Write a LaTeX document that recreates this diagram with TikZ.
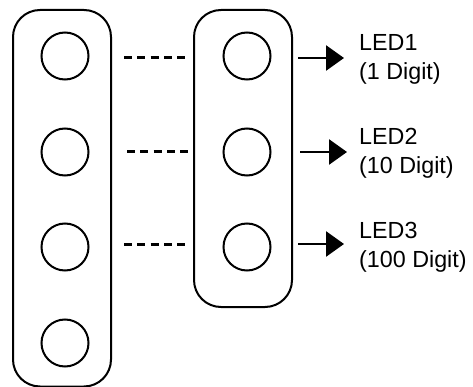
\documentclass[tikz,border=0pt]{standalone}
\usepackage{fontspec}
\setmainfont{Liberation Sans}
\usetikzlibrary{arrows.meta}
\begin{document}
\begin{tikzpicture}[x=1pt,y=-1pt,
  boxline/.style={line width=2pt},
  ledc/.style={circle,draw,line width=2pt,minimum size=47pt,inner sep=0pt},
  dashconn/.style={line width=3pt,dash pattern=on 8pt off 5.35pt,shorten <=13pt,shorten >=8.3pt},
  outarrow/.style={line width=2.6pt,-{Triangle[length=18pt,width=25pt]},shorten <=6pt},
  lbl/.style={anchor=north west,inner sep=0pt,align=left,font={\fontsize{23.3}{29}\selectfont}}]
\useasboundingbox (0,0) rectangle (473,387);
\draw[boxline,rounded corners=27pt] (13,10) rectangle (111,386.5);
\draw[boxline,rounded corners=27pt] (194,10) rectangle (292,307);
\coordinate (lbE) at (111,0);
\coordinate (rbW) at (194,0);
\coordinate (rbE) at (292,0);
\node[ledc] (l1) at (65,56) {};
\node[ledc] (l2) at (65,152) {};
\node[ledc] (l3) at (65,247) {};
\node[ledc] (l4) at (65,343) {};
\node[ledc] (r1) at (247,56) {};
\node[ledc] (r2) at (247,152) {};
\node[ledc] (r3) at (247,247) {};
\draw[dashconn] (lbE |- 0,58) -- (rbW |- 0,58);
\draw[dashconn] ([xshift=3pt]lbE |- 0,152) -- ([xshift=2pt]rbW |- 0,152);
\draw[dashconn] (lbE |- 0,244) -- (rbW |- 0,244);
\coordinate (a1) at (344,58);
\coordinate (a2) at (347,152);
\coordinate (a3) at (344,244);
\draw[outarrow] (rbE |- a1) -- (a1);
\draw[outarrow] ([xshift=2pt]rbE |- a2) -- (a2);
\draw[outarrow] (rbE |- a3) -- (a3);
\node[lbl] (t1) at (359,34.5) {LED1\\(1 Digit)};
\node[lbl] (t2) at (359,128.5) {LED2\\(10 Digit)};
\node[lbl] (t3) at (359,222.5) {LED3\\(100 Digit)};
\end{tikzpicture}
\end{document}
